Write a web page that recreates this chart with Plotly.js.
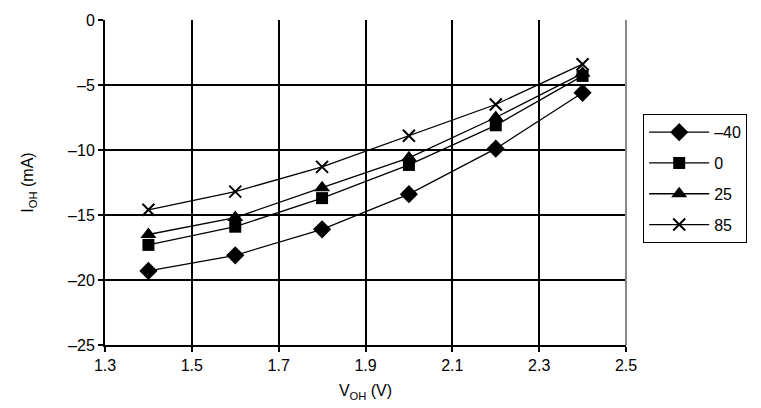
<!DOCTYPE html>
<html>
<head>
<meta charset="utf-8">
<script src="https://cdn.plot.ly/plotly-3.0.1.min.js"></script>
<style>html,body{margin:0;padding:0;background:#fff;}#chart{width:761px;height:408px;}</style>
</head>
<body>
<div id="chart"></div>
<script>
const voh = [1.4, 1.6, 1.8, 2.0, 2.2, 2.4];
const seriesNames = ["–40", "0", "25", "85"];
const iohM40 = [-19.3, -18.1, -16.1, -13.4, -9.9, -5.6];
const ioh0 = [-17.3, -15.9, -13.7, -11.15, -8.1, -4.3];
const ioh25 = [-16.5, -15.2, -12.9, -10.6, -7.5, -4.1];
const ioh85 = [-14.6, -13.2, -11.3, -8.9, -6.5, -3.4];
const xTicks = [1.3, 1.5, 1.7, 1.9, 2.1, 2.3, 2.5];
const yTicks = [0, -5, -10, -15, -20, -25];

const series = [iohM40, ioh0, ioh25, ioh85];
const symbols = ["diamond", "square", "triangle-up", "x-thin-open"];
const sizes = [14, 12, 14, 12];

const traces = series.map((ys, i) => ({
  x: voh, y: ys, name: seriesNames[i], type: "scatter", mode: "lines+markers",
  legendgroup: "g" + i,
  line: {color: "#000", width: 1.3},
  marker: {symbol: symbols[i], size: sizes[i], color: "#000",
           line: {color: "#000", width: i === 3 ? 2 : 0}}
}));

const layout = {
  width: 761, height: 408,
  margin: {l: 105, r: 135, t: 20, b: 63},
  paper_bgcolor: "#fff", plot_bgcolor: "#fff",
  font: {family: "Liberation Sans, Arial, sans-serif", size: 16, color: "#000"},
  showlegend: true,
  legend: {x: 1.033, y: 0.71, xanchor: "left", yanchor: "top",
           bordercolor: "#000", borderwidth: 1, bgcolor: "#fff",
           font: {size: 16}, traceorder: "grouped", tracegroupgap: 7, itemwidth: 60},
  xaxis: {range: [1.3, 2.5], tickvals: xTicks, ticktext: xTicks.map(v => v.toFixed(1)),
          showgrid: true, gridcolor: "#000", gridwidth: 2,
          showline: true, linecolor: "#000", linewidth: 2, mirror: false,
          ticks: "outside", ticklen: 5, tickcolor: "#000", tickwidth: 2, zeroline: false,
          title: {text: "V<sub>OH</sub> (V)", font: {size: 16}, standoff: 12}},
  yaxis: {range: [-25, 0], tickvals: yTicks, ticktext: yTicks.map(v => v === 0 ? "0" : "–" + Math.abs(v)),
          showgrid: true, gridcolor: "#000", gridwidth: 2,
          showline: true, linecolor: "#000", linewidth: 2,
          ticks: "outside", ticklen: 5, tickcolor: "#000", tickwidth: 2, zeroline: false,
          title: {text: "I<sub>OH</sub> (mA)", font: {size: 16}, standoff: 30}},
  shapes: [{type: "line", xref: "paper", yref: "paper", x0: 1, x1: 1, y0: 0, y1: 1,
            line: {color: "#888", width: 2}}]
};

Plotly.newPlot("chart", traces, layout, {displayModeBar: false, staticPlot: true});
</script>
</body>
</html>
